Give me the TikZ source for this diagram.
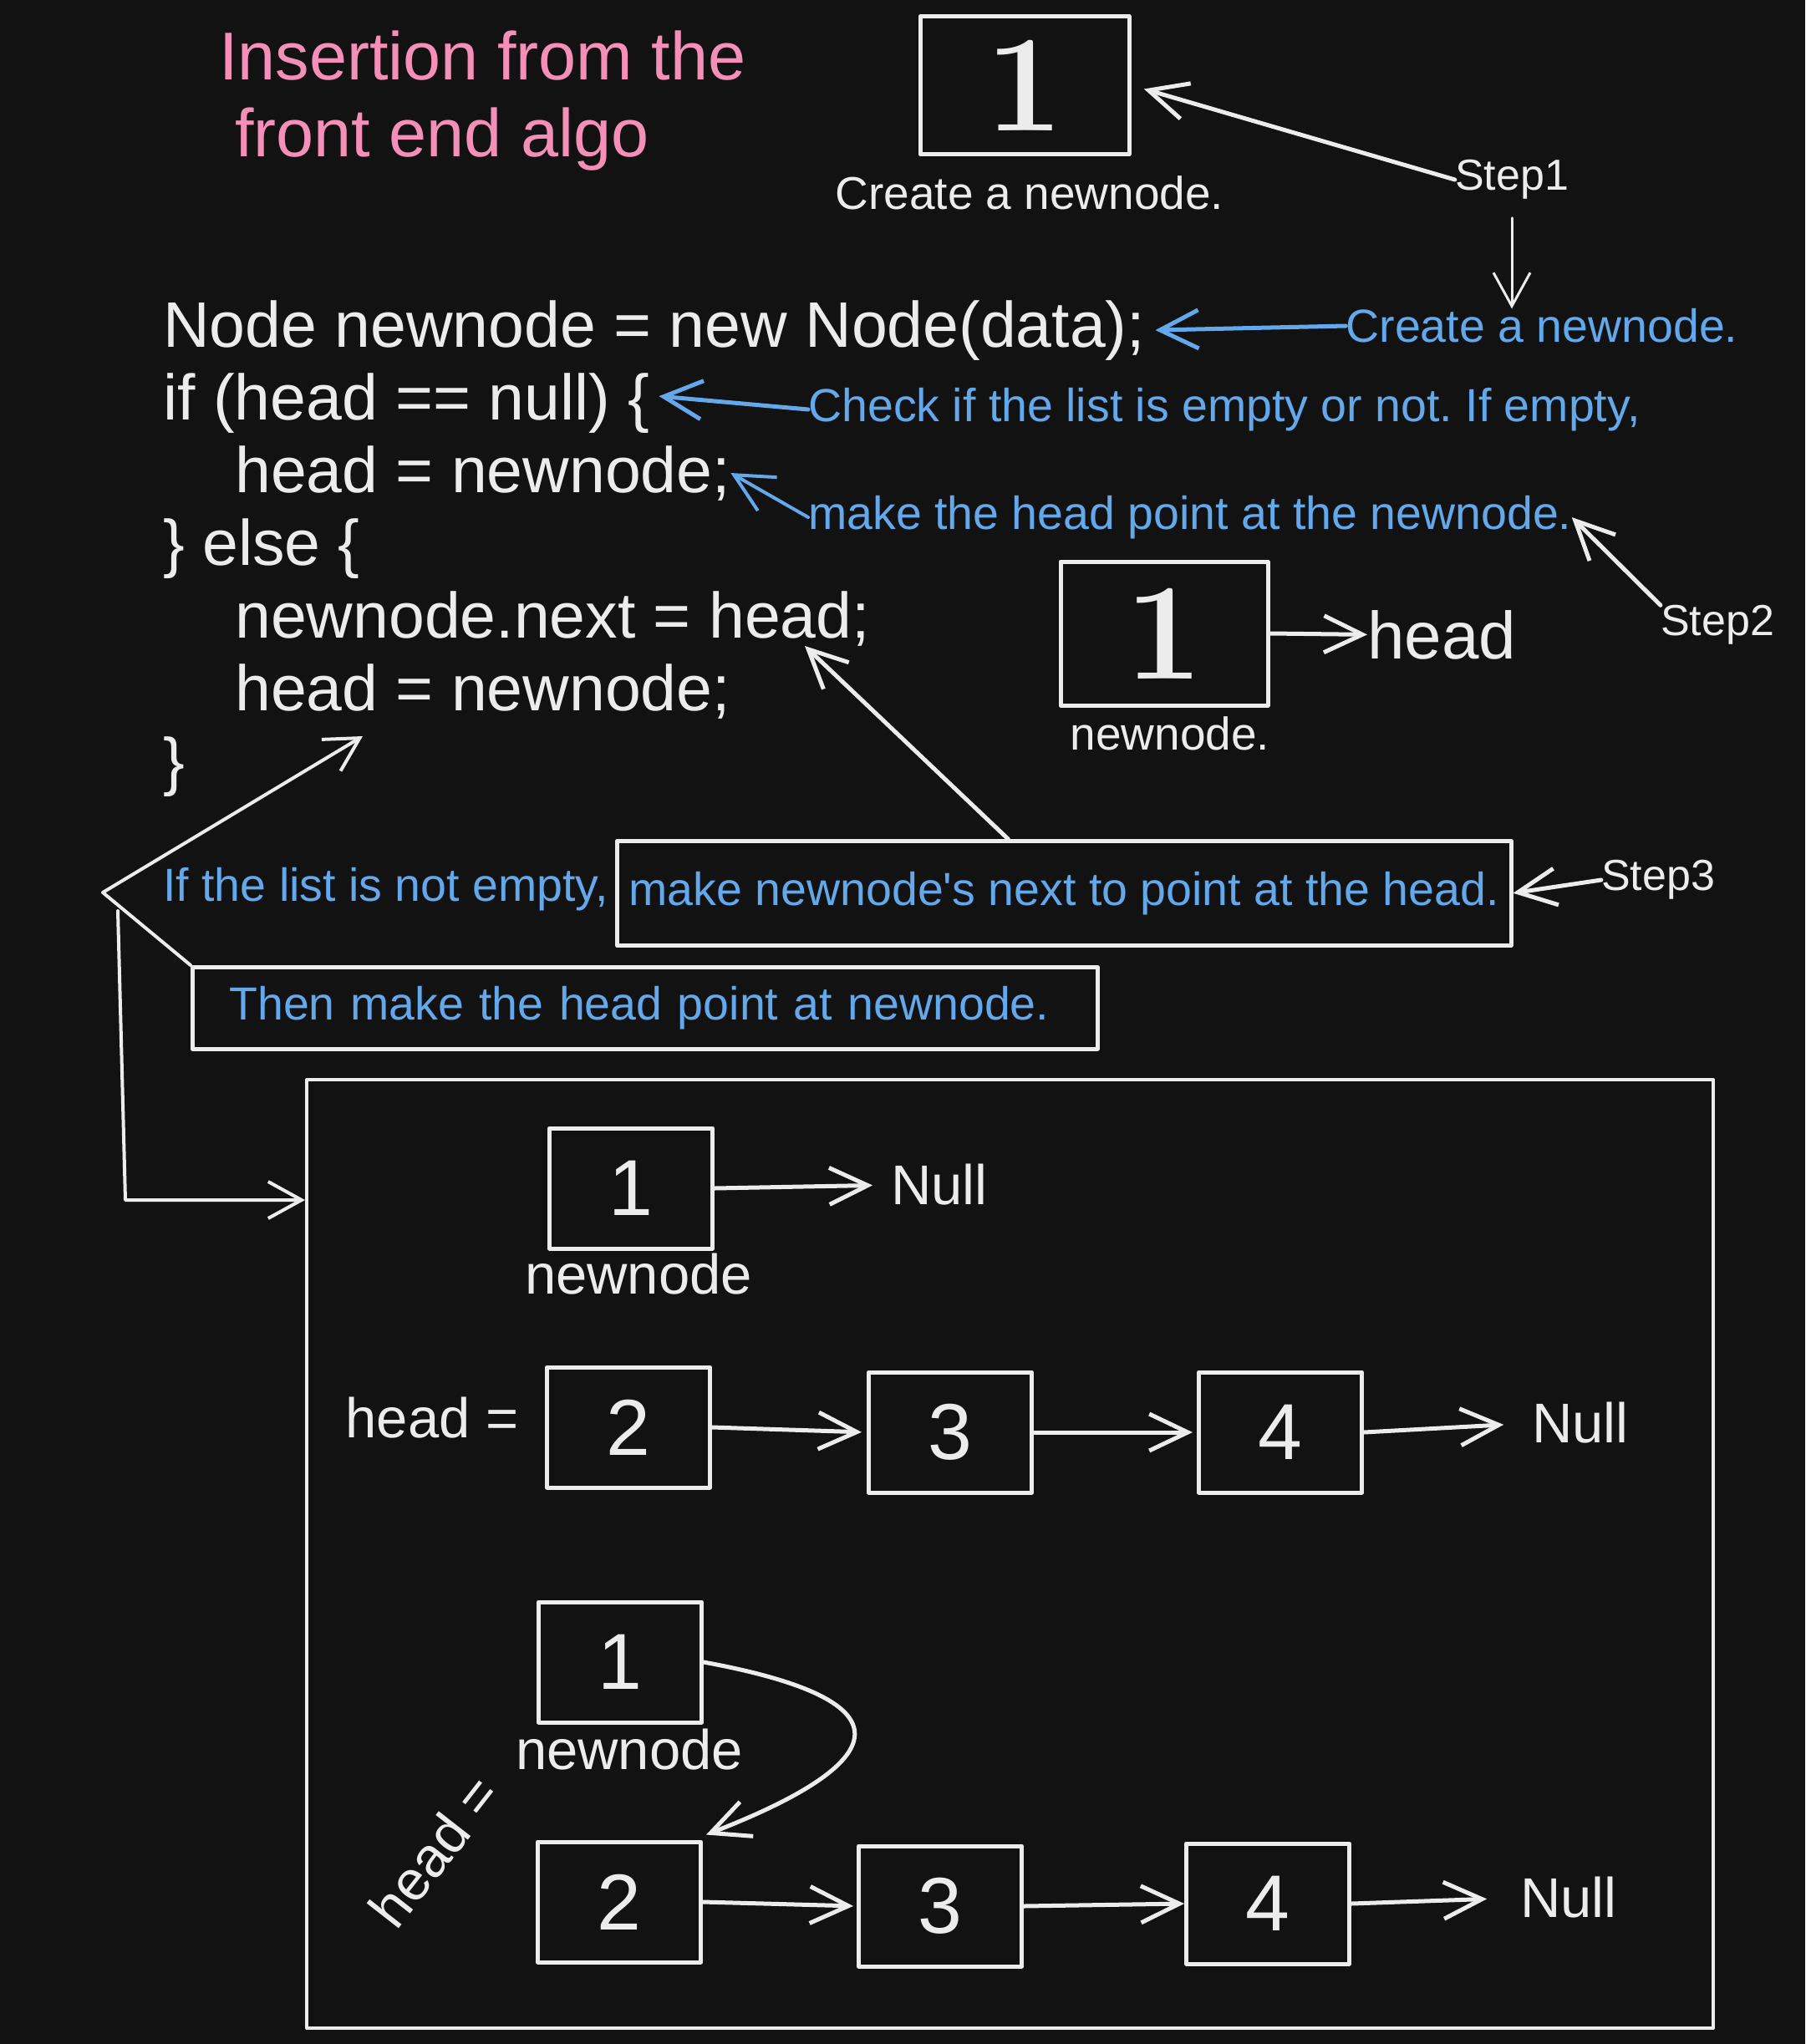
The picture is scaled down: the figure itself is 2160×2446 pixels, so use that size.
\documentclass[tikz,border=0pt]{standalone}
\usepackage{fontspec}
\newfontfamily\sans{Liberation Sans}
\usetikzlibrary{arrows.meta}
\definecolor{bg}{HTML}{121212}
\definecolor{fg}{HTML}{ECECEC}
\definecolor{blu}{HTML}{62A8EA}
\definecolor{pnk}{HTML}{F48FB8}
\newcommand\myfs[1]{\fontsize{#1}{#1}\selectfont}
\begin{document}
\frenchspacing
\begin{tikzpicture}[x=1pt,y=-1pt,line cap=round,line join=round,
  txt/.style={text=fg,inner sep=0pt,font=\sans},
  code/.style={text=fg,inner sep=0pt,anchor=base west,font={\sans\myfs{77}}},
  note/.style={text=blu,inner sep=0pt,font={\sans\myfs{55.5}}},
  steptxt/.style={text=fg,inner sep=0pt,font={\sans\myfs{52}}},
  lbox/.style={draw=fg,line width=5pt,minimum width=195pt,minimum height=144pt,inner sep=0pt,text=fg,font={\sans\myfs{95}}},
  hbox/.style={draw=fg,line width=5pt,inner sep=0pt,text=fg,font={\bfseries\myfs{165}}},
  warr/.style={draw=fg,line width=5pt,-{Straight Barb[length=46pt,width=44pt]}},
  tarr/.style={draw=fg,line width=4pt,-{Straight Barb[length=40pt,width=44pt]}},
  barr/.style={draw=blu,line width=5pt,-{Straight Barb[length=46pt,width=46pt]}}]
\fill[bg] (0,0) rectangle (2160,2446);
\useasboundingbox (0,0) rectangle (2160,2446);

% title
\node[inner sep=0pt,anchor=base west,text=pnk,font={\sans\myfs{81}}] (t1) at (262,96) {Insertion from the};
\node[inner sep=0pt,anchor=base west,text=pnk,font={\sans\myfs{81}}] (t2) at (281,187) {front end algo};

% step 1
\node[hbox,minimum width=250pt,minimum height=165pt] (top1) at (1226,102) {1};
\node[txt,font={\sans\myfs{55}}] (top1lbl) at (1232,231) {Create a newnode.};
\node[steptxt] (step1) at (1809,215) {Step1};

% code
\node[code] (c1) at (195,415) {Node newnode = new Node(data);};
\node[code] (c2) at (195,502) {if (head == null) \{};
\node[code] (c3) at (281,589) {head = newnode;};
\node[code] (c4) at (195,676) {\} else \{};
\node[code] (c5) at (281,763) {newnode.next = head;};
\node[code] (c6) at (281,850) {head = newnode;};
\node[code] (c7) at (195,937) {\}};

% blue notes
\node[note] (bt1) at (1845,390) {Create a newnode.};
\node[note,anchor=west] (bt2) at (967,490) {Check if the list is empty or not. If empty,};
\node[note,anchor=west] (bt3) at (967,619) {make the head point at the newnode.};
\node[note,anchor=west] (bt4) at (195,1064) {If the list is not empty,};
\node[note,draw=fg,line width=4.5pt,anchor=north west,minimum width=1070pt,minimum height=125pt] (makebox) at (736,1004) {make newnode's next to point at the head.};
\node[note,draw=fg,line width=4.5pt,anchor=north west,minimum width=1083pt,minimum height=98pt,
      inner xsep=44pt,text width=995pt,align=left] (thenbox) at (228,1155) {Then make the head point at newnode.};

\draw[warr,shorten >=16pt] (step1.west) -- (top1.east);
\draw[tarr,line width=3pt,shorten <=22pt] (step1.south) -- (step1.south |- bt1.north);
\draw[barr] (bt1.west) -- ([xshift=12pt]c1.east);
\draw[barr] (bt2.west) -- ([xshift=11pt,yshift=8pt]c2.east);
\draw[barr,line width=4pt] (bt3.west) -- (c3.east);

% step 2
\node[hbox,minimum width=248pt,minimum height=172pt] (mid1) at (1393,758) {1};
\node[txt,font={\sans\myfs{55}}] (mid1lbl) at (1400,878) {newnode.};
\node[txt,anchor=base west,font={\sans\myfs{80}}] (headlbl) at (1636,788) {head};
\node[steptxt] (step2) at (2055,748) {Step2};
\draw[warr] (mid1.east) -- (headlbl.west);
\draw[warr] (step2.north west) -- (bt3.east);

% step 3
\node[steptxt] (step3) at (1984,1053) {Step3};
\draw[warr] (step3.west) -- (makebox.east);
\coordinate (tipnext) at (963,773);
\draw[warr] ([xshift=-67pt]makebox.north) -- (tipnext);

\coordinate (apex) at (123,1068);
\coordinate (tiphead) at (434,881);
\draw[tarr] (thenbox.north west) -- (apex) -- (tiphead);

% frame
\node[draw=fg,line width=4pt,anchor=north west,minimum width=1683pt,minimum height=1135pt,inner sep=0pt] (frame) at (365,1290) {};
\coordinate (drop) at (141,1090);
\coordinate (corner) at (150,1436);
\draw[tarr] (drop) -- (corner) -- (corner -| frame.west);

% row 1
\node[lbox] (r1a) at (755,1422) {1};
\node[txt,font={\sans\myfs{67}}] (r1lbl) at (764,1525) {newnode};
\node[txt,font={\sans\myfs{67}}] (r1null) at (1124,1418) {Null};
\draw[warr,shorten >=22pt] (r1a.east) -- (r1null.west);

% row 2
\node[txt,font={\sans\myfs{67}}] (r2head) at (517,1697) {head =};
\node[lbox] (r2a) at (752,1708) {2};
\node[lbox] (r2b) at (1137,1714) {3};
\node[lbox] (r2c) at (1532,1714) {4};
\node[txt,font={\sans\myfs{67}}] (r2null) at (1891,1703) {Null};
\draw[warr,shorten >=6pt] (r2a.east) -- (r2b.west);
\draw[warr,shorten >=5pt] (r2b.east) -- (r2c.west);
\draw[warr,shorten >=34pt] (r2c.east) -- (r2null.west);

% row 3
\node[lbox] (r3n) at (742,1989) {1};
\node[txt,font={\sans\myfs{67}}] (r3lbl) at (753,2094) {newnode};
\node[txt,font={\sans\myfs{67}},rotate=52] (r3head) at (519,2215) {head =};
\node[lbox] (r3a) at (741,2276) {2};
\node[lbox] (r3b) at (1125,2281) {3};
\node[lbox] (r3c) at (1517,2278) {4};
\node[txt,font={\sans\myfs{67}}] (r3null) at (1877,2271) {Null};
\draw[warr] (r3n.east) .. controls (1120,2040) and (1040,2120) .. ([xshift=4pt,yshift=6pt]r3a.north east);
\draw[warr,shorten >=4pt] (r3a.east) -- (r3b.west);
\draw[warr] (r3b.east) -- (r3c.west);
\draw[warr,shorten >=40pt] (r3c.east) -- (r3null.west);
\end{tikzpicture}
\end{document}
